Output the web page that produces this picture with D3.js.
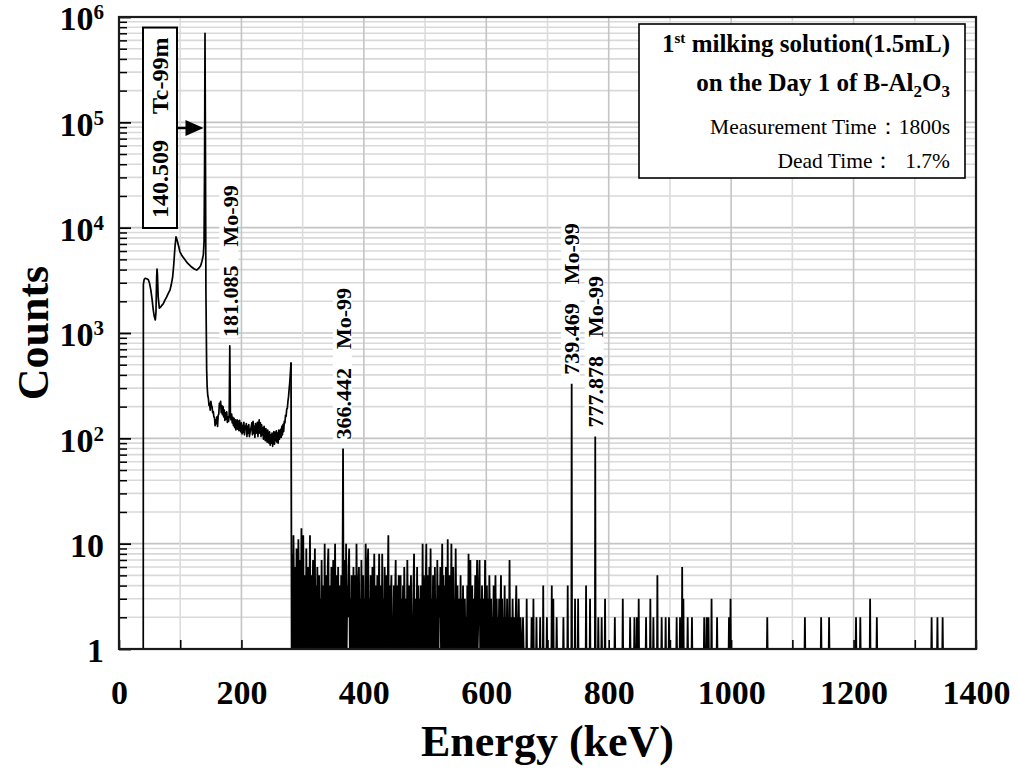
<!DOCTYPE html>
<html><head><meta charset="utf-8">
<script src="https://cdn.jsdelivr.net/npm/d3@7"></script>
<style>
body{margin:0;background:#fff;}
svg{display:block;}
text{font-family:"Liberation Serif","Times New Roman",serif;white-space:pre;}
</style></head><body>
<svg id="chart" width="1018" height="775"></svg>
<script>
// ---------------- DATA ----------------
const xGridValues = [0,100,200,300,400,500,600,700,800,900,1000,1100,1200,1300,1400];
const xTickLabels = [0,200,400,600,800,1000,1200,1400];
const yDecades = [1,10,100,1000,10000,100000,1000000];
const yTickBase = ["1","10","10","10","10","10","10"];
const yTickExp  = ["","","2","3","4","5","6"];

// low-energy continuum (keV, counts)
const lowE = [39.6,39.8,41,42.5,44,46,48,50,52,54,56,57.5,59.3,60.4,61.5,62.1,62.8,64,65.9,68,70,72.4,75,77.9,80.5,83.3,85.5,87.7,89.5,91.5,93.1,95,97,99.6,103,107.8,112,118.7,123,126.9,130,133.4,135.5,137.8,139,139.8,140.5,141.2,142,143.2];
const lowC = [1,2900,3200,3300,3300,3250,3200,2950,2550,2100,1650,1450,1330,1560,3400,4050,3600,2200,1720,1760,1830,1900,2050,2200,2380,2550,2900,3420,4500,6630,8200,7600,6800,5900,5400,4950,4600,4230,4050,3960,4100,4360,4800,5520,7500,40000,700000,60000,2500,446];

// 144 .. 281 keV, 1 keV per value
const plateauStartE = 144;
const plateauCounts = [
 310,255,240,205,215,185,225,205,200,175,180,160,158,132,150,138,160,130,165,170,
 215,200,225,175,205,168,200,160,185,148,175,152,178,142,160,145,168,754,160,150,
 170,140,158,132,155,126,150,120,140,150,122,146,118,148,124,115,140,110,132,114,
 142,108,130,122,138,104,130,112,135,104,112,122,128,140,108,145,112,130,102,138,
 118,112,142,104,132,150,112,140,104,134,108,126,98,130,106,95,124,104,92,120,
 98,90,115,86,108,90,112,84,102,116,88,114,95,118,92,112,90,120,98,105,
 122,102,130,108,136,116,145,140,165,162,190,192,225,250,295,340,420,524];

// 282 .. 664 keV, 1 keV per value
const denseStartE = 282;
const denseCounts = [
 1,8,1,12,3,1,6,1,9,2,      1,11,4,1,7,1,14,3,1,12,
 1,5,2,1,9,1,4,6,1,3,       12,1,5,1,3,7,1,2,9,1,
 4,1,6,2,1,5,1,3,1,7,       1,4,2,1,10,1,5,3,1,6,
 9,1,4,2,1,6,1,3,7,1,       3,10,1,5,2,1,6,1,4,2,
 1,5,1,3,80,1,7,2,1,10,     1,4,2,6,9,1,3,1,5,2,
 1,6,1,3,5,1,10,2,1,4,      6,1,3,1,7,2,1,5,1,3,
 1,10,4,1,6,9,1,3,1,5,      2,1,6,1,3,8,1,4,2,1,
 5,1,3,8,1,4,2,1,8,1,       3,1,6,2,1,5,1,4,12,1,
 4,1,3,5,1,2,1,4,1,3,       7,1,4,1,2,5,1,3,5,1,
 3,1,4,1,6,2,1,3,1,7,       2,1,4,1,3,5,1,2,1,4,
 8,1,3,2,1,6,1,4,1,3,       1,4,2,1,10,1,5,3,1,4,
 10,1,5,2,1,6,1,9,1,3,      1,5,2,1,6,1,3,1,7,2,
 1,4,2,6,1,3,10,1,5,1,      4,1,6,2,1,11,1,3,5,1,
 2,10,1,4,6,1,3,1,9,2,      1,4,1,3,2,1,5,1,3,1,
 4,1,2,3,1,2,1,4,1,8,       1,3,7,1,2,4,1,3,1,2,
 5,1,3,7,1,2,4,7,1,3,       1,4,2,1,3,1,7,2,1,4,
 1,3,1,5,2,1,3,1,2,1,       4,1,2,5,1,3,1,2,1,3,
 1,2,5,1,3,1,2,1,4,1,       2,1,3,1,2,1,7,1,2,1,
 1,3,1,2,1,1,2,4,1,2,       1,3,1,1,2,1,1,1,2,1,
 1,1,1];

// isolated counts above 664 keV
const sparseE = [666,674,677,682,688,693,699,707,709.5,715,726,733,739.5,745,750,763,769.5,778,783,788.5,794,810,823,835,842,846,849,861,868,873,879.5,886.5,893,898.5,911,916.5,920,922,929,936,956,960,963,968,977,996.5,999,1059,1120.5,1147,1160,1204,1211,1227,1238,1327.5,1337,1345.5];
const sparseC = [3,2,3,2,2,4,2,4,3,2,2,4,330,3,3,4,3,104,2,2,3,2,3,2,2,2,3,2,3,2,5,2,2,2,2,2,6,3,2,2,2,2,2,3,2,2,3,2,2,2,2,2,2,3,2,2,2,2];

const peakEnergies = [181.085,366.442,739.469,777.878];
const peakCounts   = [754,80,330,104];
const peakNuclide  = ["Mo-99","Mo-99","Mo-99","Mo-99"];
const mainPeakEnergy = 140.509;
const mainPeakNuclide = "Tc-99m";

// ---------------- CHART ----------------
const plot = {left:119,right:976,top:17,bottom:649};
const svg = d3.select("#chart");
const x = d3.scaleLinear().domain([0,1400]).range([plot.left,plot.right]);
const y = d3.scaleLog().domain([1,1e6]).range([plot.bottom,plot.top]);
const isDecade = d => Math.abs(Math.log10(d)-Math.round(Math.log10(d)))<1e-9;

svg.append("rect").attr("width",1018).attr("height",775).attr("fill","#fff");

// grid
const gGrid = svg.append("g");
gGrid.selectAll("line.h").data(y.ticks()).join("line").attr("class","h")
  .attr("x1",plot.left).attr("x2",plot.right)
  .attr("y1",d=>y(d)).attr("y2",d=>y(d))
  .attr("stroke",d=>isDecade(d)?"#c4c4c4":"#d9d9d9").attr("stroke-width",1.6);
gGrid.selectAll("line.v").data(xGridValues).join("line").attr("class","v")
  .attr("y1",plot.top).attr("y2",plot.bottom)
  .attr("x1",d=>x(d)).attr("x2",d=>x(d))
  .attr("stroke",d=>d%200===0?"#c4c4c4":"#dcdcdc").attr("stroke-width",1.6);

// clip
svg.append("clipPath").attr("id","clip").append("rect")
  .attr("x",plot.left).attr("y",plot.top).attr("width",plot.right-plot.left).attr("height",plot.bottom-plot.top);

// build spectrum points
const contPts = lowE.map((e,i)=>[e,lowC[i]])
  .concat(plateauCounts.map((c,i)=>[plateauStartE+i,c]));
const noisePts = [contPts[contPts.length-1]]
  .concat(denseCounts.map((c,i)=>[denseStartE+i,c]));
sparseE.forEach((e,i)=>{ noisePts.push([e-0.55,1],[e,sparseC[i]],[e+0.55,1]); });
noisePts.push([1400,1]);

const line = d3.line().x(d=>x(d[0])).y(d=>y(Math.max(1,d[1])));
const gSpec = svg.append("g").attr("clip-path","url(#clip)");
gSpec.append("path").attr("d",line(noisePts)).attr("fill","none")
  .attr("stroke","#000").attr("stroke-width",1.8).attr("stroke-linejoin","miter");
gSpec.append("path").attr("d",line(contPts)).attr("fill","none")
  .attr("stroke","#000").attr("stroke-width",1.7).attr("stroke-linejoin","round");

// axes: x inward ticks
const gx = svg.append("g").attr("transform",`translate(0,${plot.bottom})`)
  .call(d3.axisBottom(x).tickValues(xGridValues).tickSize(-9).tickFormat(""));
gx.select(".domain").remove();
gx.selectAll(".tick line").attr("stroke","#000").attr("stroke-width",1.6);
const gxl = svg.append("g").attr("transform",`translate(0,${plot.bottom})`)
  .call(d3.axisBottom(x).tickValues(xTickLabels).tickSize(0).tickPadding(31).tickFormat(d3.format("d")));
gxl.select(".domain").remove();
gxl.selectAll("text").attr("font-family","Liberation Serif").attr("font-size",34)
  .attr("font-weight",700).attr("fill","#000");

// y inward ticks
const gyMinor = svg.append("g").attr("transform",`translate(${plot.left},0)`)
  .call(d3.axisRight(y).tickValues(y.ticks().filter(d=>!isDecade(d))).tickSize(8).tickFormat(""));
gyMinor.select(".domain").remove();
gyMinor.selectAll(".tick line").attr("stroke","#000").attr("stroke-width",1.5);
const gyMajor = svg.append("g").attr("transform",`translate(${plot.left},0)`)
  .call(d3.axisRight(y).tickValues(yDecades).tickSize(12).tickFormat(""));
gyMajor.select(".domain").remove();
gyMajor.selectAll(".tick line").attr("stroke","#000").attr("stroke-width",1.8);

// y labels
const gyl = svg.append("g").attr("transform",`translate(${plot.left},0)`)
  .call(d3.axisLeft(y).tickValues(yDecades).tickSize(0).tickPadding(15).tickFormat(()=>""));
gyl.select(".domain").remove();
gyl.selectAll(".tick text").each(function(d,i){
  const t = d3.select(this).attr("font-family","Liberation Serif").attr("font-size",34)
    .attr("font-weight",700).attr("fill","#000").attr("dy","0.38em");
  t.text(null);
  t.append("tspan").text(yTickBase[i]);
  if (yTickExp[i]) t.append("tspan").attr("font-size",21).attr("dy",-11).text(yTickExp[i]);
});

// frame
svg.append("rect").attr("x",plot.left).attr("y",plot.top)
  .attr("width",plot.right-plot.left).attr("height",plot.bottom-plot.top)
  .attr("fill","none").attr("stroke","#1a1a1a").attr("stroke-width",2.2);

// axis titles
svg.append("text").attr("x",(plot.left+plot.right)/2).attr("y",756)
  .attr("text-anchor","middle").attr("font-size",44).attr("font-weight",700).text("Energy (keV)");
svg.append("text").attr("transform",`translate(48,${(plot.top+plot.bottom)/2}) rotate(-90)`)
  .attr("text-anchor","middle").attr("font-size",44).attr("font-weight",700).text("Counts");

// peak labels
peakEnergies.forEach((e,i)=>{
  const g = svg.append("g").attr("transform",`translate(${x(e)},${y(peakCounts[i])-9}) rotate(-90)`);
  const t = g.append("text").attr("font-size",22).attr("font-weight",700).attr("dy","0.35em");
  t.append("tspan").text(e.toFixed(3));
  t.append("tspan").attr("dx",19).text(peakNuclide[i]);
  const bb = t.node().getBBox();
  g.insert("rect","text").attr("x",bb.x-1).attr("y",-10.5)
    .attr("width",bb.width+2).attr("height",19).attr("fill","#fff");
});

// main peak boxed label + arrow
{
  const g = svg.append("g").attr("transform","translate(160,218) rotate(-90)");
  const t = g.append("text").attr("font-size",24).attr("font-weight",700).attr("dy","0.35em");
  t.append("tspan").text(mainPeakEnergy.toFixed(3));
  t.append("tspan").attr("dx",26).text(mainPeakNuclide);
  const bb = t.node().getBBox();
  g.insert("rect","text").attr("x",bb.x-10).attr("y",-17)
    .attr("width",bb.width+20).attr("height",34)
    .attr("fill","#fff").attr("stroke","#000").attr("stroke-width",2);
  const tipX = x(mainPeakEnergy)-1.5, ay = 128;
  svg.append("line").attr("x1",177).attr("x2",tipX-16).attr("y1",ay).attr("y2",ay)
    .attr("stroke","#000").attr("stroke-width",2.5);
  svg.append("path").attr("d",`M${tipX},${ay} L${tipX-18},${ay-8} L${tipX-18},${ay+8} Z`).attr("fill","#000");
}

// info box
{
  const g = svg.append("g");
  g.append("rect").attr("x",639).attr("y",24).attr("width",326).attr("height",154)
    .attr("fill","#fff").attr("stroke","#000").attr("stroke-width",1.6);
  const rx = 950;
  const t1 = g.append("text").attr("x",rx).attr("y",52).attr("text-anchor","end")
    .attr("font-size",25).attr("font-weight",700);
  t1.append("tspan").text("1");
  t1.append("tspan").attr("font-size",15).attr("dy",-9).text("st");
  t1.append("tspan").attr("dy",9).text(" milking solution(1.5mL)");
  const t2 = g.append("text").attr("x",rx).attr("y",91).attr("text-anchor","end")
    .attr("font-size",25).attr("font-weight",700);
  t2.append("tspan").text("on the Day 1 of B-Al");
  t2.append("tspan").attr("font-size",17).attr("dy",6).text("2");
  t2.append("tspan").attr("dy",-6).text("O");
  t2.append("tspan").attr("font-size",17).attr("dy",6).text("3");
  g.append("text").attr("x",rx).attr("y",134).attr("text-anchor","end")
    .attr("font-size",21.5).text("Measurement Time：1800s");
  g.append("text").attr("x",rx).attr("y",168).attr("text-anchor","end")
    .attr("font-size",21.5).text("Dead Time：  1.7%");
}
</script>
</body></html>
